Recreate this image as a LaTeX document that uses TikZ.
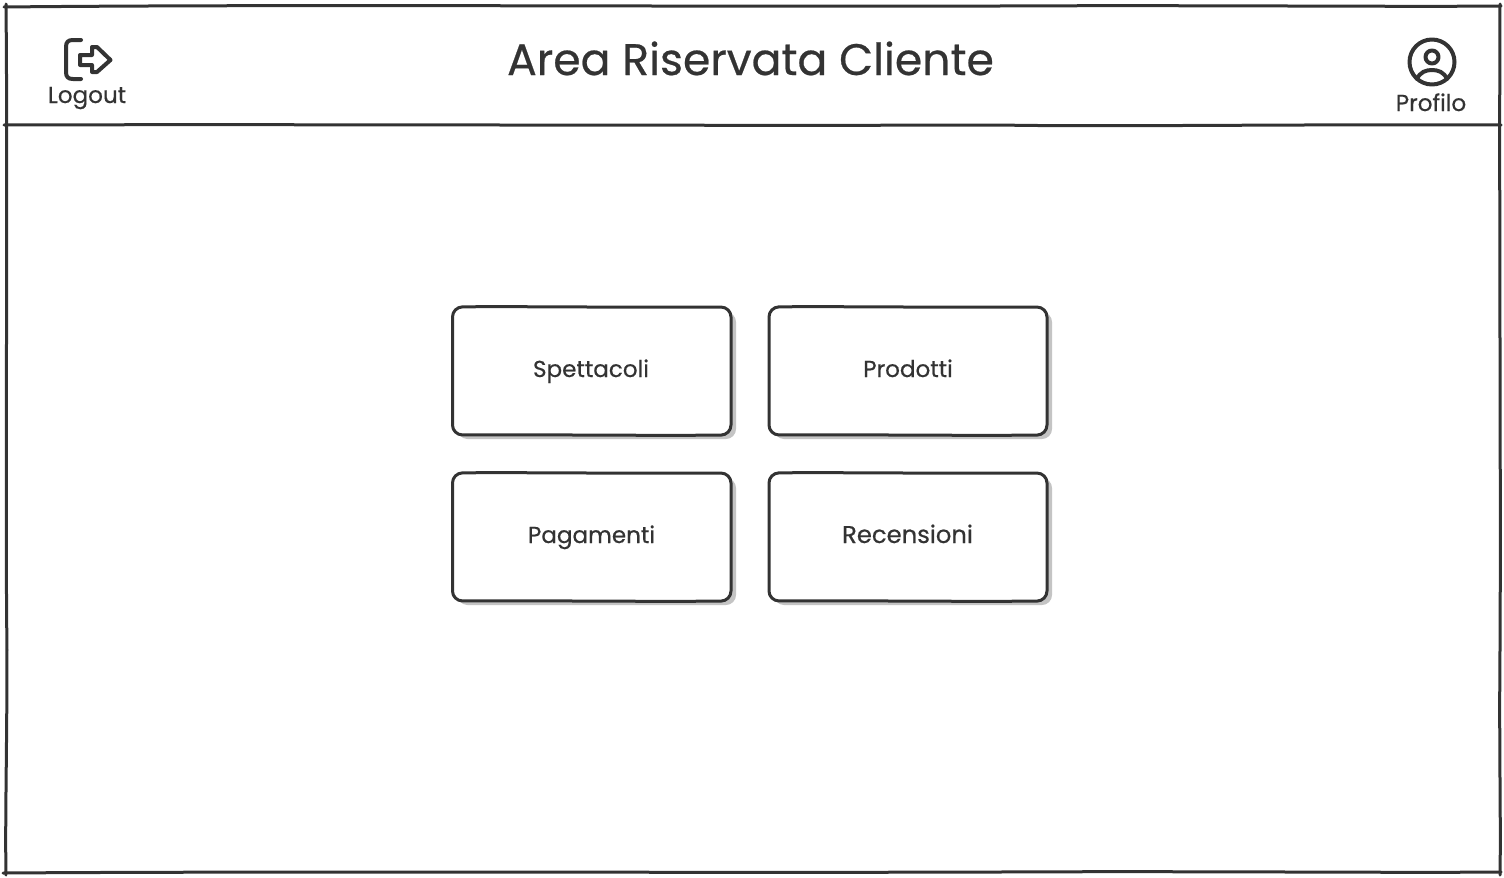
\documentclass[tikz,border=0pt]{standalone}
\usepackage{fontspec}
\setmainfont[RawFeature={embolden=0.5}]{Poppins}
\definecolor{ink}{HTML}{333333}
\definecolor{shade}{HTML}{C4C4C4}
\tikzset{
  x=0.75pt,y=-0.75pt,
  frameline/.style={draw=ink,line width=2.25pt,line cap=round},
  iconline/.style={draw=ink,line width=3pt,line cap=round,line join=round},
  btnshadow/.style={fill=shade,draw=none,rounded corners=7.5pt},
  btn/.style={draw=ink,line width=2.25pt,fill=white,rounded corners=7.5pt},
  lbl/.style={text=ink,inner sep=0pt,anchor=base,font=\fontsize{17.3}{20}\selectfont},
  hdr/.style={text=ink,inner sep=0pt,anchor=base,font=\fontsize{33.1}{38}\selectfont},
}
\newcommand{\sbutton}[5]{% name, x0, y0, x1, y1
  \fill[btnshadow] (#2+5,#3+5) rectangle (#4+5,#5+4);
  \draw[btn] (#2,#3) .. controls (#2+60,#3-0.8) and (#2+180,#3+0.7) .. (#4,#3)
     -- (#4,#5) .. controls (#4-90,#5+0.8) and (#4-190,#5-0.6) .. (#2,#5) -- cycle;
  \coordinate (#1) at ({(#2+#4)/2},{(#3+#5)/2});
}
\begin{document}
\begin{tikzpicture}
\useasboundingbox (0,0) rectangle (1504,878);
\fill[white] (0,0) rectangle (1504,878);
% outer frame
\draw[frameline] (4,7) .. controls (300,4) and (700,7) .. (1000,6) .. controls (1200,5) and (1400,7) .. (1501,6);
\draw[frameline] (6,4) .. controls (8,200) and (5,500) .. (7,650) .. controls (7,750) and (5,820) .. (6,875);
\draw[frameline] (1500,4) .. controls (1499,200) and (1501,500) .. (1500,650) .. controls (1499,750) and (1501,820) .. (1500,875);
\draw[frameline] (3,873) .. controls (300,871) and (700,873) .. (1000,872) .. controls (1200,871) and (1400,873) .. (1501,872);
\draw[frameline] (4,125) .. controls (300,124) and (700,126) .. (1000,125) .. controls (1100,127) and (1300,124) .. (1501,125);
% title
\node[hdr] (title) at (750.5,75) {Area Riservata Cliente};
% logout icon
\draw[iconline] (81,40) -- (73,40) .. controls (68,40) and (66,42) .. (66,47) -- (66,72) .. controls (66,77) and (68,79) .. (73,79) -- (81,79);
\draw[iconline] (80,55) -- (92,55) -- (92,47) -- (97,47) -- (110.5,60) -- (97,72) -- (92,72) -- (92,65) -- (80,65) -- cycle;
\node[lbl] (logout) at (87,103) {Logout};
% profile icon
\draw[iconline] (1432,62) circle [radius=22.5];
\draw[iconline] (1432,57) circle [radius=6.5];
\draw[iconline] (1417,79) .. controls (1420,72) and (1426,70) .. (1432,70) .. controls (1438,70) and (1444,72) .. (1447,79);
\node[lbl] (profilo) at (1431,111) {Profilo};
% buttons
\sbutton{a}{452.5}{307}{731}{435}
\sbutton{b}{769}{307}{1047}{435}
\sbutton{c}{452.5}{473}{731}{601}
\sbutton{d}{769}{473}{1047}{601}
\node[lbl] (spettacoli) at (591,377) {Spettacoli};
\node[lbl] (prodotti) at (908,377) {Prodotti};
\node[lbl] (pagamenti) at (591.5,543) {Pagamenti};
\node[lbl,font=\fontsize{18.2}{20}\selectfont] (recensioni) at (907.5,543) {Recensioni};
\end{tikzpicture}
\end{document}
